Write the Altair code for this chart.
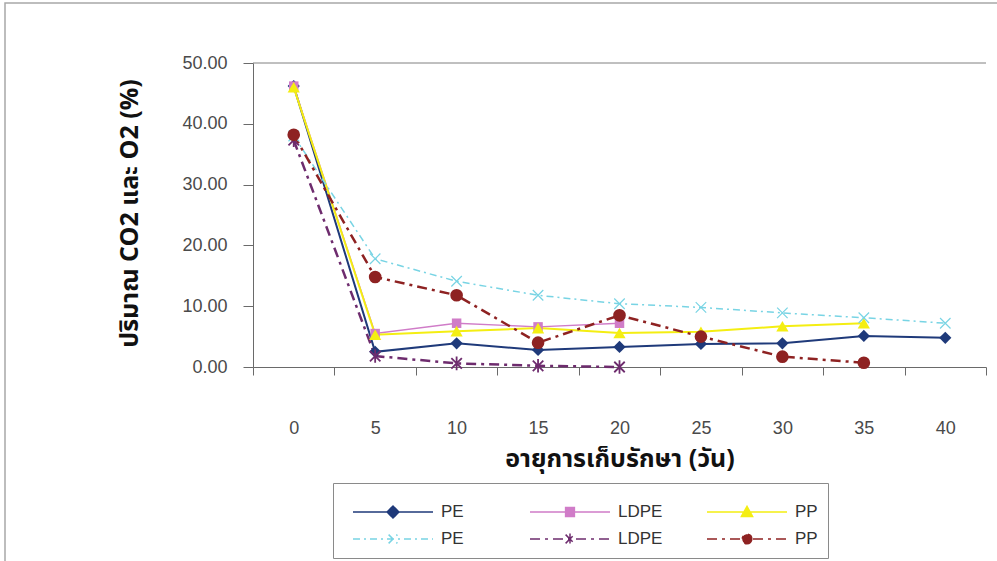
import altair as alt
import pandas as pd

# Storage time (days) on the category axis
days = [0, 5, 10, 15, 20, 25, 30, 35, 40]

# Gas content (%) per packaging film; solid and dash-dot series
pe_solid = [46.2, 2.5, 3.9, 2.8, 3.3, 3.8, 3.9, 5.1, 4.8]
ldpe_solid = [46.2, 5.5, 7.2, 6.6, 7.2]
pp_solid = [46.0, 5.3, 5.9, 6.4, 5.6, 5.8, 6.7, 7.2]
pe_dash = [38.0, 17.8, 14.1, 11.8, 10.4, 9.8, 8.9, 8.1, 7.2]
ldpe_dash = [37.3, 1.8, 0.6, 0.2, 0.0]
pp_dash = [38.2, 14.8, 11.8, 4.0, 8.5, 5.0, 1.7, 0.7]

# drawing order of the series
series_keys = ["PE 1", "LDPE 1", "PP 1", "PE 2", "LDPE 2", "PP 2"]
series_values = [pe_solid, ldpe_solid, pp_solid, pe_dash, ldpe_dash, pp_dash]

y_ticks = [0, 10, 20, 30, 40, 50]

# ---- styling -------------------------------------------------------------
colors = ["#1f3a7a", "#d07cc8", "#f4ee12", "#78d4e4", "#6e2c6e", "#8e2222"]
line_widths = [2.0, 1.4, 2.0, 1.5, 2.5, 2.5]
line_dashes = [None, None, None, [7, 4, 2, 4], [10, 5, 3, 5], [10, 5, 3, 5]]

X_PATH = "M-1,-1L1,1M-1,1L1,-1"
STAR_PATH = "M-1,-1L1,1M-1,1L1,-1M0,-1.3L0,1.3"
markers = [
    dict(shape="diamond", size=150, filled=True),
    dict(shape="square", size=90, filled=True),
    dict(shape="triangle-up", size=150, filled=True),
    dict(shape=X_PATH, size=110, filled=False, strokeWidth=1.2),
    dict(shape=STAR_PATH, size=110, filled=False, strokeWidth=1.8),
    dict(shape="circle", size=160, filled=True),
]

# legend glyphs: a line sample with the marker in the middle (unit = 40px)
legend_paths = [
    "M-1,0L1,0M0,-0.15L0.15,0L0,0.15L-0.15,0Z",
    "M-1,0L1,0M-0.11,-0.11L0.11,-0.11L0.11,0.11L-0.11,0.11Z",
    "M-1,0L1,0M0,-0.14L0.14,0.11L-0.14,0.11Z",
    "M-1,0L1,0M-0.11,-0.11L0.11,0.11M-0.11,0.11L0.11,-0.11",
    "M-1,0L1,0M-0.11,-0.11L0.11,0.11M-0.11,0.11L0.11,-0.11M0,-0.14L0,0.14",
    "M-1,0L1,0M0.12,0A0.12,0.12 0 1,1 -0.12,0A0.12,0.12 0 1,1 0.12,0Z",
]
legend_dashes = [[1, 0], [1, 0], [1, 0], [7, 4, 2, 4], [10, 5, 3, 5], [10, 5, 3, 5]]

# legend entries are filled column by column (2 rows x 3 columns)
legend_order = ["PE 1", "PE 2", "LDPE 1", "LDPE 2", "PP 1", "PP 2"]
idx = [series_keys.index(k) for k in legend_order]
legend_colors = [colors[i] for i in idx]
legend_shapes = [legend_paths[i] for i in idx]
legend_dash_range = [legend_dashes[i] for i in idx]

LABEL_FONT = "Liberation Sans"
THAI_FONT = "Noto Sans Thai, Loma, Garuda, Tahoma, Noto Sans, DejaVu Sans, sans-serif"
AXIS_GRAY = "#6a6a6a"

rows = []
for key, vals in zip(series_keys, series_values):
    for d, v in zip(days, vals):
        rows.append({"day": d, "value": v, "series": key})
df = pd.DataFrame(rows)

x_enc = alt.X(
    "day:O",
    bandPosition=0.5,
    scale=alt.Scale(type="band", domain=days, paddingInner=0, paddingOuter=0),
    axis=alt.Axis(
        title="อายุการเก็บรักษา (วัน)",
        tickBand="extent",
        labelAngle=0,
        tickSize=8,
        labelPadding=44,
        titleY=91,
        titleBaseline="middle",
    ),
)
y_enc = alt.Y(
    "value:Q",
    scale=alt.Scale(domain=[0, 50], nice=False),
    axis=alt.Axis(
        values=y_ticks,
        format=".2f",
        title="ปริมาณ CO2 และ O2 (%)",
        grid=False,
        tickSize=10,
        labelPadding=16,
        titleAngle=270,
        titleX=-124,
        titleY=150,
        titleAlign="center",
        titleBaseline="middle",
    ),
)
color_scale = alt.Scale(domain=legend_order, range=legend_colors)

legend = alt.Legend(
    orient="none",
    legendX=80,
    legendY=420,
    columns=3,
    gridAlign="all",
    title=" ",
    titleFontSize=6,
    titlePadding=4,
    padding=10,
    strokeColor="#8a8a8a",
    fillColor="white",
    symbolSize=6400,
    symbolStrokeWidth=1.5,
    symbolOpacity=1,
    symbolOffset=9,
    clipHeight=18,
    rowPadding=9,
    columnPadding=34,
    labelOffset=7,
    labelFont=LABEL_FONT,
    labelFontSize=17,
    labelColor="#333333",
    labelExpr="split(datum.label, ' ')[0]",
)

# invisible layer that carries the combined legend (listed first so its
# legend settings take precedence over the data layers)
legend_layer = alt.Chart(pd.DataFrame({"series": legend_order})).mark_point(
    filled=True, opacity=0, strokeWidth=1.5
).encode(
    x=alt.value(0),
    y=alt.value(0),
    color=alt.Color("series:N", scale=color_scale, legend=legend),
    stroke=alt.Stroke("series:N", scale=alt.Scale(domain=legend_order, range=legend_colors), legend=legend),
    shape=alt.Shape("series:N", scale=alt.Scale(domain=legend_order, range=legend_shapes), legend=legend),
    strokeDash=alt.StrokeDash("series:N", scale=alt.Scale(domain=legend_order, range=legend_dash_range), legend=legend),
)

layers = [legend_layer]

# outer frame of the figure
frame = alt.Chart(pd.DataFrame({"f": [0]})).mark_rect(
    fillOpacity=0, stroke="#a8a8a8", strokeWidth=1.5
).encode(x=alt.value(-248), y=alt.value(-60), x2=alt.value(770), y2=alt.value(520))
layers.append(frame)

# top gridline at 50
top_line = alt.Chart(pd.DataFrame({"f": [0]})).mark_rule(
    color="#808080", strokeWidth=1
).encode(y=alt.datum(50))
layers.append(top_line)

for key, w, dash in zip(series_keys, line_widths, line_dashes):
    kw = dict(strokeWidth=w)
    if dash:
        kw["strokeDash"] = dash
    layers.append(
        alt.Chart(df)
        .transform_filter(alt.datum.series == key)
        .mark_line(**kw)
        .encode(x=x_enc, y=y_enc, color=alt.Color("series:N", scale=color_scale))
    )

for key, m in zip(series_keys, markers):
    layers.append(
        alt.Chart(df)
        .transform_filter(alt.datum.series == key)
        .mark_point(opacity=1, **m)
        .encode(x=x_enc, y=y_enc, color=alt.Color("series:N", scale=color_scale))
    )

chart = (
    alt.layer(*layers)
    .properties(
        width=733,
        height=304,
        padding={"left": 253, "top": 63, "right": 11, "bottom": 194},
        autosize=alt.AutoSizeParams(type="none"),
        background="white",
    )
    .configure_view(stroke="transparent")
    .configure_axis(
        domainColor=AXIS_GRAY,
        tickColor=AXIS_GRAY,
        labelFont=LABEL_FONT,
        labelFontSize=18,
        labelColor="#4a4a4a",
        titleFont=THAI_FONT,
        titleFontSize=25,
        titleFontWeight="bold",
        titleColor="#111111",
    )
)

chart.save("out.html", embed_options={"renderer": "svg", "actions": False})
